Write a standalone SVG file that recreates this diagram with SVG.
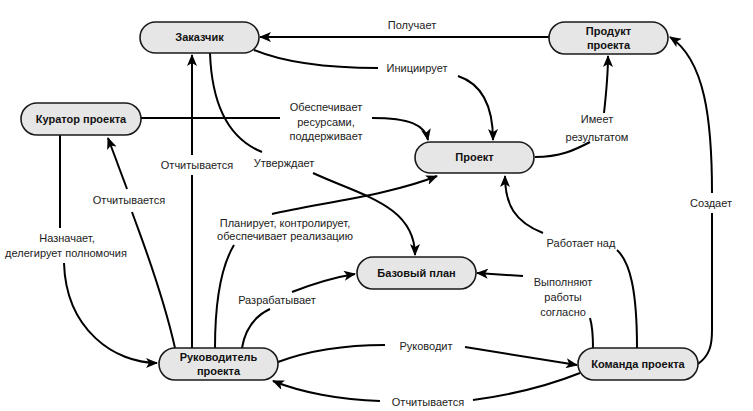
<svg xmlns="http://www.w3.org/2000/svg" width="753" height="411" viewBox="0 0 753 411">
<defs>
<marker id="arr" viewBox="0 0 12 10" refX="11" refY="5" markerWidth="12" markerHeight="10" markerUnits="userSpaceOnUse" orient="auto">
<path d="M0,0 L12,5 L0,10 L3,5 z" fill="#000"/>
</marker>
<style>
.node rect{fill:#e6e6e6;stroke:#1a1a1a;stroke-width:1.6}
.node text{font-family:"Liberation Sans",Arial,sans-serif;font-size:11px;font-weight:bold;fill:#111;text-anchor:middle}
.edges path{fill:none;stroke:#000;stroke-width:2}
.edges path.a{marker-end:url(#arr)}
.lbl{font-family:"Liberation Sans",Arial,sans-serif;font-size:11px;fill:#222;text-anchor:middle}
</style>
</defs>
<rect width="753" height="411" fill="#fff"/>
<g class="edges" id="connectors">
<path class="a" d="M549,37 L260,37"/>
<path d="M254,50 C290,65 340,68 378,68"/>
<path class="a" d="M458,76 C485,85 493,110 493,140"/>
<path d="M141,118 L280,118"/>
<path class="a" d="M372,118 C410,118 425,125 428,140"/>
<path d="M210,53 C212,110 232,140 262,152"/>
<path class="a" d="M313,173 C360,195 415,205 415,255"/>
<path d="M192,348 L192,175"/>
<path class="a" d="M192,155 L192,55"/>
<path d="M175,348 C162,290 142,240 132,212"/>
<path class="a" d="M127,189 L108,138"/>
<path d="M60,135 L60,228"/>
<path class="a" d="M64,263 C66,330 115,363 157,363"/>
<path d="M215,348 C215,300 222,265 234,245"/>
<path class="a" d="M272,214 C320,203 390,195 437,176"/>
<path d="M242,348 C245,330 255,316 270,309"/>
<path class="a" d="M292,292 C310,285 330,278 355,274"/>
<path d="M278,362 C310,350 350,345 385,345"/>
<path class="a" d="M465,347 L577,365"/>
<path d="M580,373 C550,385 510,395 473,400"/>
<path class="a" d="M380,401 C340,400 300,392 273,381"/>
<path d="M593,348 C593,335 592,325 590,318"/>
<path class="a" d="M523,276 L477,273"/>
<path d="M637,348 C637,290 630,262 617,250"/>
<path class="a" d="M543,233 C515,222 505,205 505,176"/>
<path d="M698,364 C710,355 712,345 712,330 L712,213"/>
<path class="a" d="M712,193 C712,120 705,60 670,37"/>
<path d="M535,157 C560,157 575,150 590,142"/>
<path class="a" d="M604,113 C606,95 608,75 608,56"/>
</g>
<g id="labels">
<text class="lbl" x="412" y="29">Получает</text>
<text class="lbl" x="417" y="72">Инициирует</text>
<text class="lbl" x="326" y="111">Обеспечивает</text>
<text class="lbl" x="326" y="126">ресурсами,</text>
<text class="lbl" x="326" y="140">поддерживает</text>
<text class="lbl" x="284" y="167">Утверждает</text>
<text class="lbl" x="197" y="169">Отчитывается</text>
<text class="lbl" x="129" y="204">Отчитывается</text>
<text class="lbl" x="67" y="242">Назначает,</text>
<text class="lbl" x="66" y="257">делегирует полномочия</text>
<text class="lbl" x="285" y="227">Планирует, контролирует,</text>
<text class="lbl" x="285" y="240">обеспечивает реализацию</text>
<text class="lbl" x="277" y="304">Разрабатывает</text>
<text class="lbl" x="426" y="350">Руководит</text>
<text class="lbl" x="428" y="406">Отчитывается</text>
<text class="lbl" x="563" y="286">Выполняют</text>
<text class="lbl" x="563" y="301">работы</text>
<text class="lbl" x="563" y="316">согласно</text>
<text class="lbl" x="581" y="247">Работает над</text>
<text class="lbl" x="711" y="207">Создает</text>
<text class="lbl" x="597" y="123">Имеет</text>
<text class="lbl" x="597" y="141">результатом</text>
</g>
<g class="node" id="zakazchik"><rect x="140" y="22" width="119" height="31" rx="15.5"/><text x="199.5" y="41">Заказчик</text></g>
<g class="node" id="produkt"><rect x="549" y="22" width="119" height="32" rx="16"/><text x="608.5" y="35">Продукт</text><text x="608.5" y="49">проекта</text></g>
<g class="node" id="kurator"><rect x="21" y="103" width="120" height="32" rx="16"/><text x="81" y="123">Куратор проекта</text></g>
<g class="node" id="proekt"><rect x="415" y="142" width="119" height="31" rx="15.5"/><text x="474.5" y="161">Проект</text></g>
<g class="node" id="bazoviy"><rect x="357" y="257" width="119" height="32" rx="16"/><text x="416.5" y="277">Базовый план</text></g>
<g class="node" id="rukovoditel"><rect x="159" y="348" width="119" height="32" rx="16"/><text x="218.5" y="361">Руководитель</text><text x="218.5" y="375">проекта</text></g>
<g class="node" id="komanda"><rect x="578" y="348" width="120" height="32" rx="16"/><text x="638" y="368">Команда проекта</text></g>
</svg>
